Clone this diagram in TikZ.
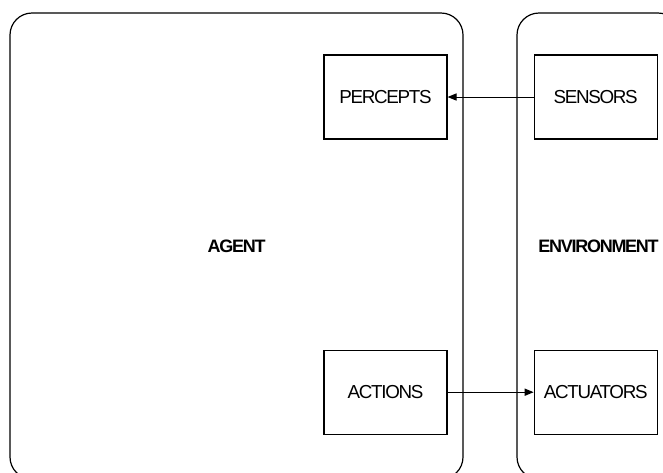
\documentclass[tikz,border=0pt]{standalone}
\usepackage{fontspec}
\setmainfont{Liberation Sans}
\newfontfamily\tightfont[LetterSpace=-7]{Liberation Sans}
\usetikzlibrary{arrows.meta,positioning}

\begin{document}
\begin{tikzpicture}[x=0.5pt,y=-0.5pt,
  region/.style={draw,line width=0.6pt,rounded corners=11pt,inner sep=0pt,
    font=\tightfont\fontsize{9}{11}\selectfont\bfseries},
  block/.style={draw,line width=0.6pt,minimum width=61.5pt,minimum height=42pt,
    inner sep=0pt,font=\tightfont\fontsize{9.4}{11}\selectfont},
  link/.style={-{Triangle[length=4.5pt,width=3.6pt]},line width=0.5pt}]
  \useasboundingbox (0,0) rectangle (663,472);
  % the two regions
  \node[region,minimum width=226.5pt,minimum height=233pt] (agent) at (236.5,246) {AGENT};
  \node[region,minimum width=81.5pt,minimum height=233pt] (env) at (598.5,246) {ENVIRONMENT};
  % blocks
  \node[block] (percepts) at (385.5,97) {PERCEPTS};
  \node[block,right=43pt of percepts] (sensors) {SENSORS};
  \node[block,below=105pt of percepts] (actions) {ACTIONS};
  \node[block,right=43pt of actions] (actuators) {ACTUATORS};
  % flows
  \draw[link] (sensors) -- (percepts);
  \draw[link] (actions) -- (actuators);
\end{tikzpicture}
\end{document}
